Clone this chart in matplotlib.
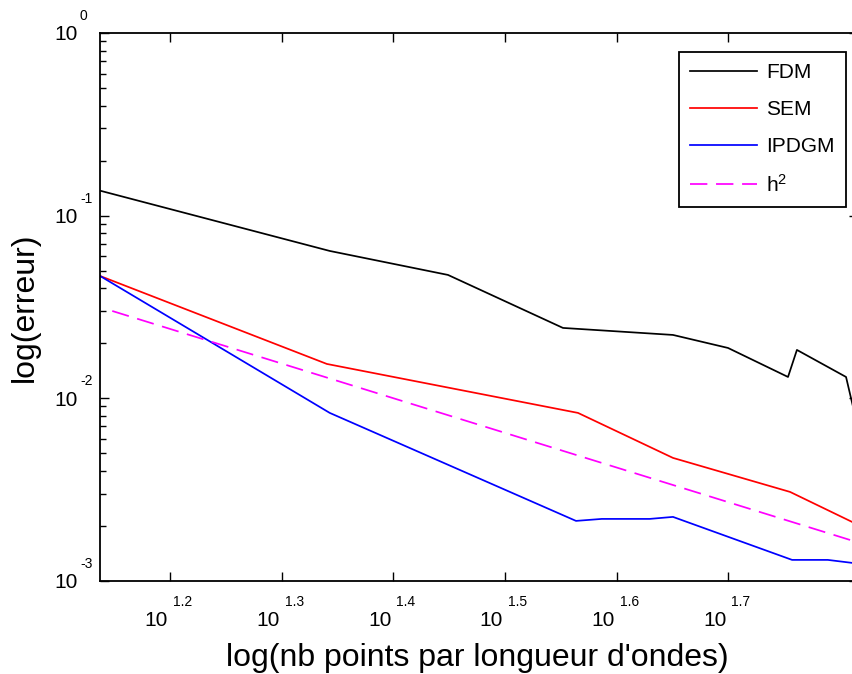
import numpy as np
import matplotlib
matplotlib.use("Agg")
import matplotlib.pyplot as plt
from matplotlib.ticker import LogLocator, NullLocator, NullFormatter, FixedLocator
import matplotlib.transforms as mtransforms

plt.rcParams['font.family'] = ['Liberation Sans', 'DejaVu Sans']
plt.rcParams['mathtext.fontset'] = 'custom'
plt.rcParams['mathtext.rm'] = 'Liberation Sans'
plt.rcParams['mathtext.it'] = 'Liberation Sans'
plt.rcParams['mathtext.default'] = 'regular'

# ---- data ----
fdm_x = [13.72, 22.03, 28.11, 35.63, 44.70, 50.07, 56.66, 57.71, 63.86, 65.2]
fdm_y = [0.1369, 0.0640, 0.0473, 0.02424, 0.02219, 0.01883, 0.01306, 0.01837, 0.01306, 0.0076]

sem_x = [13.72, 21.90, 36.75, 44.70, 56.90, 64.66, 66.0]
sem_y = [0.04669, 0.01539, 0.00830, 0.004705, 0.003064, 0.002099, 0.00196]

ipdgm_x = [13.72, 22.03, 36.60, 38.60, 42.60, 44.70, 57.14, 61.50, 64.66, 66.0]
ipdgm_y = [0.04669, 0.00830, 0.002126, 0.002180, 0.002180, 0.002236, 0.001300, 0.001300, 0.001252, 0.00123]

h2_x = [14.07, 66.0]
h2_y = [0.03002, 0.001595]

x_tick_exps = ['1.2', '1.3', '1.4', '1.5', '1.6', '1.7']
y_tick_exps = ['0', '-1', '-2', '-3']

series_labels = ['FDM', 'SEM', 'IPDGM', r'h$^2$']
xlabel = "log(nb points par longueur d'ondes)"
ylabel = "log(erreur)"

W, H = 852, 674
fig = plt.figure(figsize=(W / 100, H / 100), dpi=100)
left_px, right_px, top_px, bot_px = 100, 858, 33, 580.7
ax = fig.add_axes([left_px / W, 1 - bot_px / H, (right_px - left_px) / W, (bot_px - top_px) / H])

xmin = 10 ** (1.2 - 70 / 1117)
xmax = 10 ** (1.2 + (right_px - 170) / 1117)
ax.set_xscale('log')
ax.set_yscale('log')
ax.set_xlim(xmin, xmax)
ax.set_ylim(1e-3, 1e0)

lw = 1.25
ax.plot(fdm_x, fdm_y, color='black', lw=lw, label=series_labels[0])
ax.plot(sem_x, sem_y, color='#ff0000', lw=lw, label=series_labels[1])
ax.plot(ipdgm_x, ipdgm_y, color='#0000ff', lw=lw, label=series_labels[2])
ax.plot(h2_x, h2_y, color='#ff00ff', lw=lw, dashes=(10, 5), label=series_labels[3])

# ticks
xticks = [10 ** float(e) for e in x_tick_exps]
ax.xaxis.set_major_locator(FixedLocator(xticks))
ax.xaxis.set_minor_locator(NullLocator())
ax.xaxis.set_major_formatter(NullFormatter())
ax.xaxis.set_minor_formatter(NullFormatter())
ax.yaxis.set_major_locator(LogLocator(base=10))
ax.yaxis.set_minor_locator(LogLocator(base=10, subs=np.arange(2, 10)))
ax.yaxis.set_major_formatter(NullFormatter())
ax.yaxis.set_minor_formatter(NullFormatter())
ax.tick_params(which='both', direction='in', top=True, right=True, width=1.0, color='black')
ax.tick_params(which='major', length=6.5)
ax.tick_params(which='minor', length=4)
for s in ax.spines.values():
    s.set_linewidth(1.3)
    s.set_color('black')

fs_base = 15
fs_exp = 10
# y tick labels: "10" with raised exponent
for e in y_tick_exps:
    yv = 10 ** float(e)
    tr_base = mtransforms.blended_transform_factory(fig.transFigure, ax.transData)
    off = mtransforms.ScaledTranslation(0, -2 / 100, fig.dpi_scale_trans)
    ax.text(78 / W, yv, '10', transform=tr_base + off, ha='right', va='center',
            fontsize=fs_base, clip_on=False)
    off2 = mtransforms.ScaledTranslation(0, 17 / 100, fig.dpi_scale_trans)
    ax.text(80 / W, yv, e, transform=tr_base + off2, ha='left', va='center',
            fontsize=fs_exp, clip_on=False)

for e in x_tick_exps:
    xv = 10 ** float(e)
    tr_base = mtransforms.blended_transform_factory(ax.transData, fig.transFigure)
    off = mtransforms.ScaledTranslation(-2 / 100, 0, fig.dpi_scale_trans)
    ax.text(xv, 1 - 620 / H, '10', transform=tr_base + off, ha='right', va='center',
            fontsize=fs_base, clip_on=False)
    off2 = mtransforms.ScaledTranslation(3 / 100, 0, fig.dpi_scale_trans)
    ax.text(xv, 1 - 602 / H, e, transform=tr_base + off2, ha='left', va='center',
            fontsize=fs_exp, clip_on=False)

fig.text(477 / W, 1 - 673 / H, xlabel, ha='center', va='bottom', fontsize=23)
fig.text(25 / W, 1 - 307 / H, ylabel, ha='center', va='center', rotation=90, fontsize=23)

leg = ax.legend(loc='upper right', bbox_to_anchor=(846 / W, 1 - 52 / H),
                bbox_transform=fig.transFigure, fontsize=15, frameon=True, fancybox=False,
                edgecolor='black', framealpha=1, handlelength=3.2, handletextpad=0.45,
                labelspacing=0.85, borderpad=0.55, borderaxespad=0)
leg.get_frame().set_linewidth(1.3)

fig.savefig('out.png', dpi=100, facecolor='white')
